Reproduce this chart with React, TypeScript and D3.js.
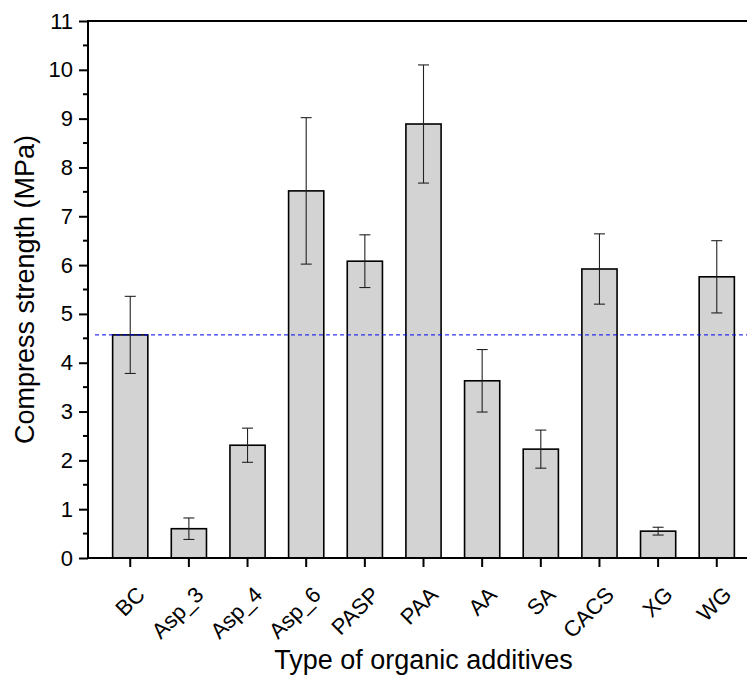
import React, { useEffect, useRef } from 'react';
import * as d3 from 'd3';

const categories = ['BC', 'Asp_3', 'Asp_4', 'Asp_6', 'PASP', 'PAA', 'AA', 'SA', 'CACS', 'XG', 'WG'];
const strength = [4.57, 0.6, 2.31, 7.52, 6.08, 8.89, 3.63, 2.23, 5.92, 0.55, 5.76];
const errors = [0.79, 0.22, 0.35, 1.5, 0.54, 1.21, 0.64, 0.39, 0.72, 0.08, 0.74];
const yTicks = [0, 1, 2, 3, 4, 5, 6, 7, 8, 9, 10, 11];

function App() {
  const ref = useRef<SVGSVGElement>(null);

  useEffect(() => {
    document.body.style.margin = '0';
    const width = 747;
    const height = 675;
    const margin = { top: 21, left: 88, bottom: 558, right: 759 };
    const font = 'Arial, "Liberation Sans", sans-serif';

    const svg = d3.select(ref.current);
    svg.selectAll('*').remove();
    svg.attr('width', width).attr('height', height);

    const x = d3
      .scaleBand()
      .domain(categories)
      .range([margin.left, margin.right])
      .paddingInner(0.4)
      .paddingOuter(0.42);

    const y = d3.scaleLinear().domain([0, 11]).range([margin.bottom, margin.top]);

    const data = categories.map((c, i) => ({ c, v: strength[i], e: errors[i] }));

    // bars
    svg
      .append('g')
      .selectAll('rect')
      .data(data)
      .enter()
      .append('rect')
      .attr('x', (d) => x(d.c)!)
      .attr('y', (d) => y(d.v))
      .attr('width', x.bandwidth())
      .attr('height', (d) => y(0) - y(d.v))
      .style('fill', '#d3d3d3')
      .style('stroke', '#000')
      .style('stroke-width', 1.6);

    // error bars
    const eb = svg.append('g').style('stroke', '#222').style('stroke-width', 1.1);
    data.forEach((d) => {
      const cx = x(d.c)! + x.bandwidth() / 2;
      eb.append('line').attr('x1', cx).attr('x2', cx).attr('y1', y(d.v + d.e)).attr('y2', y(d.v - d.e));
      [d.v + d.e, d.v - d.e].forEach((v) => {
        eb.append('line').attr('x1', cx - 5.5).attr('x2', cx + 5.5).attr('y1', y(v)).attr('y2', y(v));
      });
    });

    // reference line at BC level
    svg
      .append('line')
      .attr('x1', margin.left + 7)
      .attr('x2', margin.right)
      .attr('y1', y(strength[0]))
      .attr('y2', y(strength[0]))
      .style('stroke', '#0000ee')
      .style('stroke-width', 1)
      .style('stroke-dasharray', '4,3');

    // y axis
    const yAxis = svg
      .append('g')
      .attr('transform', `translate(${margin.left},0)`)
      .call(d3.axisLeft(y).tickValues(yTicks).tickSize(9).tickPadding(6).tickFormat(d3.format('d')));
    yAxis.select('.domain').remove();
    yAxis.selectAll('line').style('stroke', '#000').style('stroke-width', 2);
    yAxis.selectAll('text').style('font-family', font).style('font-size', '22px').style('fill', '#000');

    const minor = d3.range(0.5, 11, 1);
    svg
      .append('g')
      .selectAll('line')
      .data(minor)
      .enter()
      .append('line')
      .attr('x1', margin.left - 5)
      .attr('x2', margin.left)
      .attr('y1', (d) => y(d))
      .attr('y2', (d) => y(d))
      .style('stroke', '#000')
      .style('stroke-width', 2);

    // x axis
    const xAxis = svg
      .append('g')
      .attr('transform', `translate(0,${margin.bottom})`)
      .call(d3.axisBottom(x).tickSize(9).tickSizeOuter(0));
    xAxis.select('.domain').remove();
    xAxis.selectAll('line').style('stroke', '#000').style('stroke-width', 2);
    xAxis
      .selectAll('text')
      .style('font-family', font)
      .style('font-size', '22px')
      .style('fill', '#000')
      .attr('text-anchor', 'end')
      .attr('dy', null)
      .attr('y', 0)
      .attr('transform', 'translate(16,38) rotate(-45)');

    // frame lines
    svg
      .append('line')
      .attr('x1', margin.left - 1)
      .attr('x2', width)
      .attr('y1', margin.bottom)
      .attr('y2', margin.bottom)
      .style('stroke', '#000')
      .style('stroke-width', 2);
    svg
      .append('line')
      .attr('x1', margin.left - 1)
      .attr('x2', width)
      .attr('y1', margin.top)
      .attr('y2', margin.top)
      .style('stroke', '#000')
      .style('stroke-width', 2);
    svg
      .append('line')
      .attr('x1', margin.left)
      .attr('x2', margin.left)
      .attr('y1', margin.top)
      .attr('y2', margin.bottom + 1)
      .style('stroke', '#000')
      .style('stroke-width', 2);

    // titles
    svg
      .append('text')
      .attr('x', (margin.left + margin.right) / 2)
      .attr('y', 669)
      .attr('text-anchor', 'middle')
      .style('font-family', font)
      .style('font-size', '27px')
      .text('Type of organic additives');

    svg
      .append('text')
      .attr('transform', `translate(34,${(margin.top + margin.bottom) / 2}) rotate(-90)`)
      .attr('text-anchor', 'middle')
      .style('font-family', font)
      .style('font-size', '27px')
      .text('Compress strength (MPa)');
  }, []);

  return <svg ref={ref} style={{ position: 'absolute', left: 0, top: 0 }} />;
}

export default App;
